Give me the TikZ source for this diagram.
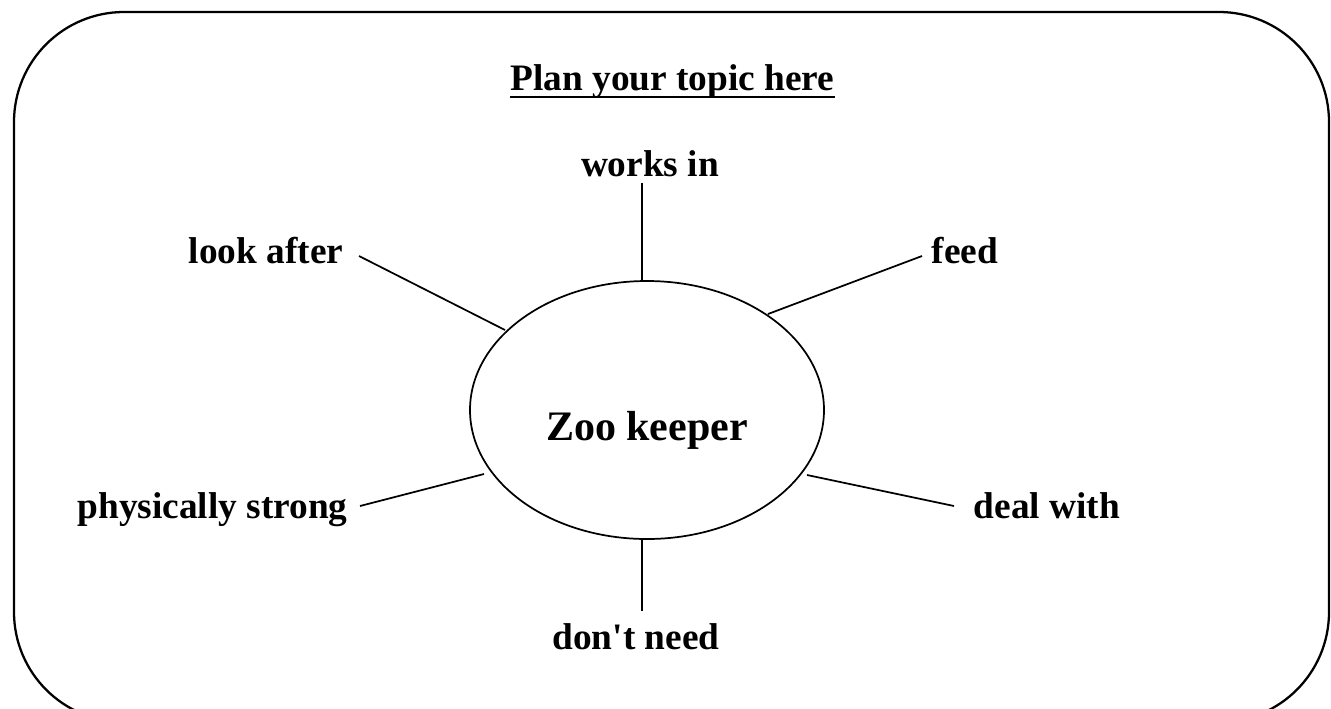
\documentclass[tikz,border=0pt]{standalone}
\usepackage{fontspec}
\setmainfont{Liberation Serif}[Ligatures=TeXOff]
\usetikzlibrary{shapes.geometric}
\tikzset{
  lbl/.style={inner sep=0pt, anchor=base, font=\fontsize{28pt}{30pt}\selectfont\bfseries},
  centre/.style={draw, ellipse, line width=1.3pt, inner sep=0pt, minimum width=265.5pt, minimum height=193.5pt},
  conn/.style={line width=1.3pt},
  frame/.style={line width=1.7pt, rounded corners=82.5pt}
}
\begin{document}
\begin{tikzpicture}[x=0.75pt, y=-0.75pt]
\useasboundingbox (0,0) rectangle (1331,708);
\clip (0,0) rectangle (1331,708);
\draw[frame] (14,12) rectangle (1329,722);
% title
\node[lbl] (ttl) at (672.5,90) {Plan your topic here};
\draw[line width=2pt] ([yshift=-5.25pt]ttl.base west) -- ([yshift=-5.25pt]ttl.base east);
% centre
\node[centre] (zk) at (647,410) {};
\node[lbl, font=\fontsize{31.5pt}{34pt}\selectfont\bfseries] (zkt) at (647,440) {Zoo keeper};
% labels
\node[lbl] (works) at (650,176.7) {works in};
\node[lbl] (look) at (266,263) {look after};
\node[lbl] (feed) at (965,263) {feed};
\node[lbl] (phys) at (212.5,518) {physically strong};
\node[lbl] (deal) at (1047,518) {deal with};
\node[lbl] (dont) at (636,649) {don't need};
% connector ends
\coordinate (w1) at (642,183); \coordinate (w2) at (642,281);
\coordinate (l1) at (359,256); \coordinate (l2) at (505,330);
\coordinate (f1) at (922,256); \coordinate (f2) at (768,314);
\coordinate (p1) at (360,506); \coordinate (p2) at (484,474);
\coordinate (d1) at (954,506); \coordinate (d2) at (807,475);
\coordinate (n1) at (642,539); \coordinate (n2) at (642,611);
\draw[conn] (w1) -- (w2);
\draw[conn] (l1) -- (l2);
\draw[conn] (f1) -- (f2);
\draw[conn] (p1) -- (p2);
\draw[conn] (d2) -- (d1);
\draw[conn] (n1) -- (n2);
\end{tikzpicture}
\end{document}
